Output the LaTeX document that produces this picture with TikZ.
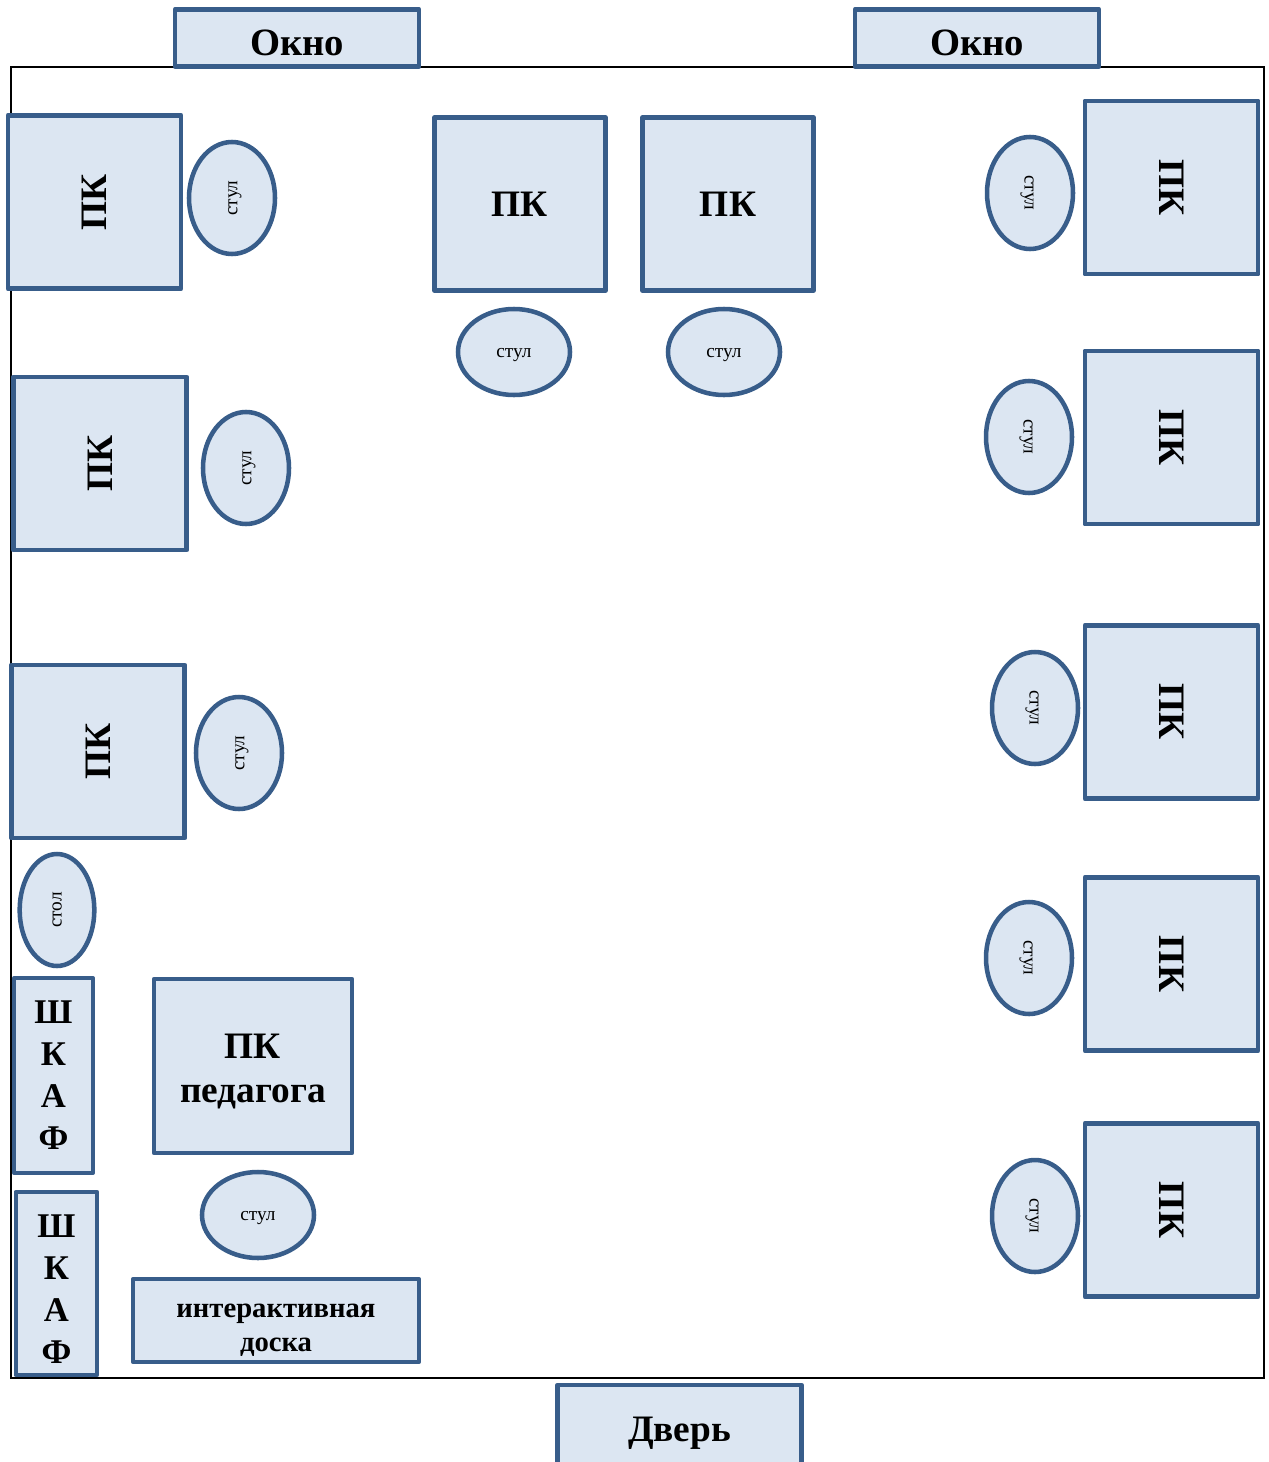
\documentclass[tikz,border=0pt]{standalone}
\usepackage{fontspec}
\setmainfont{Liberation Serif}
\usetikzlibrary{shapes.geometric}

\definecolor{boxfill}{RGB}{220,230,242}
\definecolor{boxline}{RGB}{56,93,138}

\tikzset{every picture/.style={line width=0.75pt}}
\tikzset{
  furn/.style={draw=boxline, fill=boxfill, line width=3.4pt, line join=round, inner sep=0.75pt},
  pcbox/.style={furn, rectangle, minimum width=130pt, minimum height=130pt, font=\bfseries\fontsize{28}{32}\selectfont},
  chair/.style={furn, ellipse, minimum width=84pt, minimum height=64.5pt, text height=11pt, text depth=3pt, font=\fontsize{14.5}{16}\selectfont},
  winbox/.style={furn, rectangle, minimum width=183pt, minimum height=43pt, text height=27pt, text depth=0pt, font=\bfseries\fontsize{29}{32}\selectfont},
  shkaf/.style={furn, rectangle, align=center, font=\bfseries\fontsize{26}{31.5}\selectfont}
}

\begin{document}
\begin{tikzpicture}[x=0.75pt,y=0.75pt,yscale=-1,xscale=1]
\useasboundingbox (0,0) rectangle (1269,1462);

%Shape: Room
\draw [line width=1.5pt]  (11,67) rectangle (1264,1378) ;

% Windows and door
\node [winbox] (win1) at (297,38) {Окно};
\node [winbox] (win2) at (977,38) {Окно};
\node [winbox, minimum height=64.5pt, text height=26.5pt, text depth=6pt, font=\bfseries\fontsize{28}{32}\selectfont] (door) at (679.5,1428) {Дверь};

% Left wall
\node [pcbox, rotate=90] (pcl1) at (94.5,202) {ПК};
\node [chair, rotate=90] (chl1) at (232,198) {стул};
\node [pcbox, rotate=90] (pcl2) at (100,463.5) {ПК};
\node [chair, rotate=90] (chl2) at (246,468) {стул};
\node [pcbox, rotate=90] (pcl3) at (98,751.5) {ПК};
\node [chair, rotate=90] (chl3) at (239,753) {стул};
\node [chair, rotate=90, minimum height=56pt, text height=7pt, text depth=0pt] (tbl) at (57,910) {стол};

% Top row
\node [pcbox, minimum width=128pt] (pct1) at (520,204) {ПК};
\node [chair] (cht1) at (514,352) {стул};
\node [pcbox, minimum width=128pt] (pct2) at (728,204) {ПК};
\node [chair] (cht2) at (724,352) {стул};

% Right wall
\node [pcbox, rotate=-90] (pcr1) at (1171.5,187.5) {ПК};
\node [chair, rotate=-90] (chr1) at (1030,193) {стул};
\node [pcbox, rotate=-90] (pcr2) at (1171.5,437.5) {ПК};
\node [chair, rotate=-90] (chr2) at (1029,437) {стул};
\node [pcbox, rotate=-90] (pcr3) at (1171.5,712) {ПК};
\node [chair, rotate=-90] (chr3) at (1035,708) {стул};
\node [pcbox, rotate=-90] (pcr4) at (1171.5,964) {ПК};
\node [chair, rotate=-90] (chr4) at (1029,958) {стул};
\node [pcbox, rotate=-90] (pcr5) at (1171.5,1210) {ПК};
\node [chair, rotate=-90] (chr5) at (1035,1216) {стул};

% Teacher corner
\node [shkaf, minimum width=59pt, minimum height=146pt] (shk1) at (53.5,1075.5) {Ш\\К\\А\\Ф};
\node [shkaf, minimum width=61pt, minimum height=137pt] (shk2) at (56.5,1283.5) {\rule{0pt}{26pt}Ш\\К\\А\\Ф};
\node [shkaf, minimum width=148.5pt, minimum height=130.5pt, font=\bfseries\fontsize{28}{33}\selectfont] (pcteach) at (253,1066) {\rule{0pt}{27pt}ПК\\педагога};
\node [chair] (chteach) at (258,1215) {стул};
\node [shkaf, minimum width=214.5pt, minimum height=62pt, font=\bfseries\fontsize{21.5}{25.5}\selectfont] (board) at (276,1320.5) {\rule{0pt}{25pt}интерактивная\\доска};

\end{tikzpicture}
\end{document}
